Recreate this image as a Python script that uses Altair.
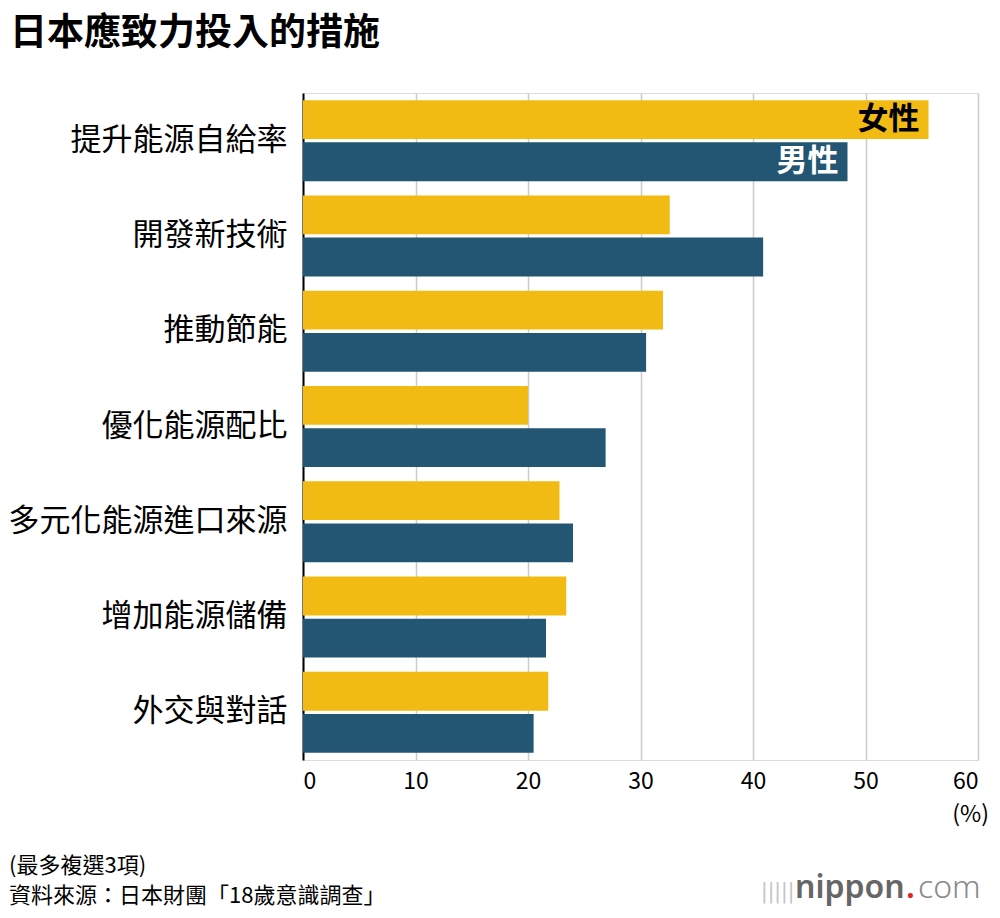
import altair as alt
import pandas as pd

categories = ["提升能源自給率", "開發新技術", "推動節能", "優化能源配比",
              "多元化能源進口來源", "增加能源儲備", "外交與對話"]
female = [55.6, 32.6, 32.0, 20.0, 22.8, 23.4, 21.8]
male = [48.4, 40.9, 30.5, 26.9, 24.0, 21.6, 20.5]
genders = ["女性", "男性"]
colors = ["#F1BB13", "#235672"]
label_colors = ["#000000", "#FFFFFF"]
x_ticks = [0, 10, 20, 30, 40, 50, 60]

FONT = "Noto Sans CJK TC"
W, H = 675, 667

rows = []
for c, f, m in zip(categories, female, male):
    rows.append({"item": c, "gender": genders[0], "value": f})
    rows.append({"item": c, "gender": genders[1], "value": m})
df = pd.DataFrame(rows)

# labels inside the first pair of bars
lab = pd.DataFrame({
    "item": [categories[0]] * 2,
    "gender": genders,
    "value": [female[0], male[0]],
    "tc": label_colors,
})

y_enc = alt.Y("item:N", sort=categories, title=None,
              scale=alt.Scale(paddingInner=0.15, paddingOuter=0.075),
              axis=alt.Axis(labelFont=FONT, labelFontSize=31, labelColor="#000",
                            labelPadding=16, ticks=False, domainColor="#000",
                            domainWidth=2, labelLimit=400))
yoff = alt.YOffset("gender:N", sort=genders,
                   scale=alt.Scale(paddingInner=0.08, paddingOuter=0))
x_enc = alt.X("value:Q", title=None,
              scale=alt.Scale(domain=[0, 60], nice=False),
              axis=alt.Axis(values=x_ticks, labelFont=FONT, labelFontSize=23,
                            labelColor="#000", labelPadding=10, ticks=False,
                            domain=False, grid=True, gridColor="#cccccc",
                            gridWidth=1.5))

bars = alt.Chart(df).mark_bar().encode(
    x=x_enc,
    y=y_enc,
    yOffset=yoff,
    color=alt.Color("gender:N", scale=alt.Scale(domain=genders, range=colors),
                    legend=None),
)

inlabels = alt.Chart(lab).mark_text(
    align="right", baseline="middle", dx=-9, font=FONT, fontSize=31,
    fontWeight="bold"
).encode(
    x="value:Q",
    y=alt.Y("item:N", sort=categories),
    yOffset=yoff,
    text="gender:N",
    color=alt.Color("tc:N", scale=None),
)


def note(txt, x, y, size, align="left", color="#000", weight="normal",
         baseline="middle", font=FONT):
    return alt.Chart(pd.DataFrame({"t": [txt]})).mark_text(
        align=align, baseline=baseline, font=font, fontSize=size,
        color=color, fontWeight=weight
    ).encode(text="t:N", x=alt.value(x), y=alt.value(y))


unit = note("(%)", 686, 722, 23, align="right")
foot1 = note("(最多複選3項)", -294, 773, 22)
foot2 = note("資料來源：日本財團「18歲意識調查」", -294, 803, 22)
icon = note("|||||", 458, 805, 22, color="#c4c4c4", baseline="alphabetic",
            font="DejaVu Sans Condensed")
logo1 = note("nippon", 492, 805, 32, color="#666666", weight=600,
             baseline="alphabetic", font="Noto Sans")
logo2 = note(".", 603, 805, 32, color="#e5202e", weight=600,
             baseline="alphabetic", font="Noto Sans")
logo3 = note("com", 615, 805, 32, color="#8a8a8a", weight=300,
             baseline="alphabetic", font="Noto Sans")

chart = alt.layer(bars, inlabels, unit, foot1, foot2,
                  icon, logo1, logo2, logo3).properties(
    width=W, height=H,
    title=alt.TitleParams("日本應致力投入的措施", anchor="start", frame="group",
                          dx=-293, offset=40, font=FONT, fontSize=37,
                          fontWeight="bold", color="#000"),
    autosize=alt.AutoSizeParams(type="none"),
    padding={"left": 295, "top": 85, "right": 14, "bottom": 150},
).configure_view(stroke=None).configure(background="white")

chart.save("out.html", embed_options={"renderer": "svg", "actions": False})
